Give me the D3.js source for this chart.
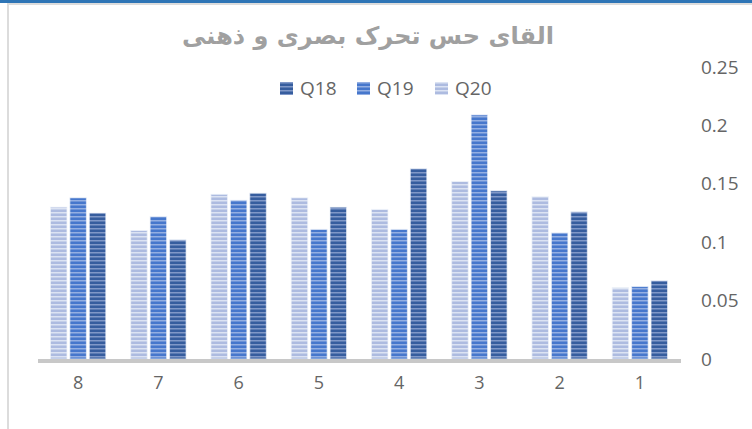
<!DOCTYPE html>
<html>
<head>
<meta charset="utf-8">
<script src="https://cdn.jsdelivr.net/npm/d3@7"></script>
<style>
  html, body { margin: 0; padding: 0; background: #fff; }
  svg { display: block; }
</style>
</head>
<body>
<svg id="chart" width="752" height="429"></svg>
<script>
const title = "القای حس تحرک بصری و ذهنی";
const categories = ["8", "7", "6", "5", "4", "3", "2", "1"];
const seriesNames = ["Q20", "Q19", "Q18"];
const legendOrder = ["Q18", "Q19", "Q20"];
const q18 = [0.125, 0.102, 0.142, 0.130, 0.163, 0.144, 0.126, 0.067];
const q19 = [0.138, 0.122, 0.136, 0.111, 0.111, 0.209, 0.108, 0.062];
const q20 = [0.130, 0.110, 0.141, 0.138, 0.128, 0.152, 0.139, 0.061];
const yTicks = [0, 0.05, 0.1, 0.15, 0.2, 0.25];
const yTickLabels = ["0", "0.05", "0.1", "0.15", "0.2", "0.25"];

const valuesBySeries = { Q18: q18, Q19: q19, Q20: q20 };
const palette = {
  Q18: { base: "#365D9E", stripe: "#8098C8" },
  Q19: { base: "#4677CC", stripe: "#94AFE2" },
  Q20: { base: "#ADBBE0", stripe: "#DCE3F3" }
};

const svg = d3.select("#chart");
const W = 752, H = 429;

// frame decorations
svg.append("rect").attr("x", 0).attr("y", 0).attr("width", W).attr("height", 3).attr("fill", "#2E75B6");
svg.append("rect").attr("x", 7).attr("y", 3).attr("width", W - 7).attr("height", 2).attr("fill", "#DCDCDC");
svg.append("rect").attr("x", 7).attr("y", 3).attr("width", 2).attr("height", H - 3).attr("fill", "#DCDCDC");

// patterns
const defs = svg.append("defs");
seriesNames.forEach(s => {
  const p = defs.append("pattern").attr("id", "pat-" + s)
    .attr("patternUnits", "userSpaceOnUse").attr("width", 8).attr("height", 4);
  p.append("rect").attr("width", 8).attr("height", 4).attr("fill", palette[s].base);
  p.append("rect").attr("y", 0).attr("width", 8).attr("height", 1.5).attr("fill", palette[s].stripe);
});

const x0 = d3.scaleBand().domain(categories).range([38, 680]).paddingInner(0.31).paddingOuter(0.155);
const x1 = d3.scaleBand().domain(seriesNames).range([0, x0.bandwidth()]).paddingInner(0.15);
const y = d3.scaleLinear().domain([0, 0.25]).range([359, 67]);

// bars
const groups = svg.append("g").selectAll("g").data(categories).join("g")
  .attr("transform", d => `translate(${x0(d)},0)`);
groups.selectAll("rect").data((c, i) => seriesNames.map(s => ({ s, v: valuesBySeries[s][i] })))
  .join("rect")
  .attr("x", d => x1(d.s))
  .attr("y", d => y(d.v))
  .attr("width", x1.bandwidth())
  .attr("height", d => y(0) - y(d.v))
  .attr("fill", d => `url(#pat-${d.s})`)
  .attr("stroke", "#EEF2FA")
  .attr("stroke-opacity", 0.7)
  .attr("stroke-width", 1);

// x axis line
svg.append("rect").attr("x", 38).attr("y", 359).attr("width", 643).attr("height", 4).attr("fill", "#C8C8C8");

// x labels
const xAxis = d3.axisBottom(x0).tickSize(0).tickPadding(0);
const gx = svg.append("g").attr("transform", "translate(0,375)").call(xAxis);
gx.select(".domain").remove();
gx.selectAll("text").attr("font-family", "'Open Sans', sans-serif").attr("font-size", 18)
  .attr("fill", "#656565").attr("dy", "0.75em");

// y labels
const yAxis = d3.axisRight(y).tickValues(yTicks).tickFormat((d, i) => yTickLabels[i]).tickSize(0).tickPadding(0);
const gy = svg.append("g").attr("transform", "translate(701,0)").call(yAxis);
gy.select(".domain").remove();
gy.selectAll("text").attr("font-family", "'Open Sans', sans-serif").attr("font-size", 19)
  .attr("fill", "#656565").attr("text-anchor", "start");

// title
svg.append("text").attr("x", 368).attr("y", 44).attr("text-anchor", "middle")
  .attr("direction", "rtl")
  .attr("font-family", "'DejaVu Sans', sans-serif").attr("font-weight", "bold").attr("font-size", 24)
  .attr("fill", "#A0A0A0").text(title);

// legend
const legendX = { Q18: 280, Q19: 357, Q20: 435 };
const lg = svg.append("g").selectAll("g").data(legendOrder).join("g")
  .attr("transform", d => `translate(${legendX[d]},82)`);
lg.append("rect").attr("width", 13).attr("height", 13).attr("fill", d => `url(#pat-${d})`);
lg.append("text").attr("x", 20).attr("y", 6.5).attr("dy", "0.36em")
  .attr("font-family", "'Open Sans', sans-serif").attr("font-size", 19).attr("fill", "#656565")
  .text(d => d);
</script>
</body>
</html>
